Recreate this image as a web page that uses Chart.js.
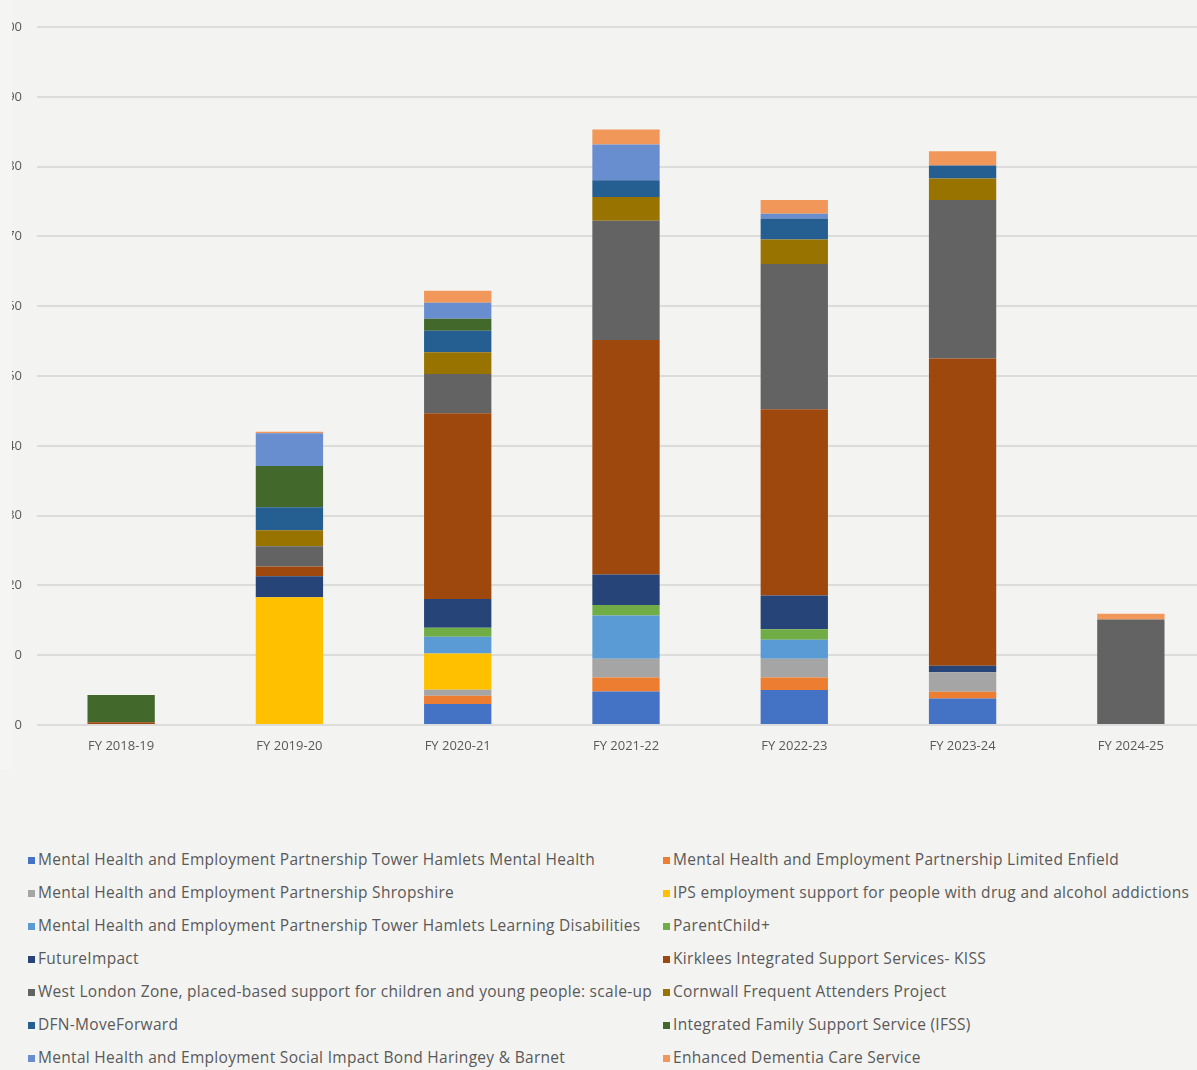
<!DOCTYPE html>
<html>
<head>
<meta charset="utf-8">
<script src="https://cdn.jsdelivr.net/npm/chart.js@4/dist/chart.umd.min.js"></script>
<style>
  html, body { margin: 0; padding: 0; background: #f3f3f1; }
  .wrap { position: relative; width: 1197px; height: 1070px; overflow: hidden; background: #f3f3f1; }
  .js-chart { position: absolute; left: 0; top: 0; }
  .edge { position: absolute; left: 0; top: 0; width: 12px; height: 770px; background: #f5f5f4; }
  .legend { position: absolute; left: 28px; top: 843px; display: grid; grid-template-columns: 635px auto;
    font-family: 'Open Sans', sans-serif; font-size: 15.5px; letter-spacing: 0.3px; color: #595959; }
  .legend div { height: 33px; line-height: 33px; white-space: nowrap; }
  .legend span { display: inline-block; width: 7px; height: 7px; margin-right: 3px; vertical-align: 1px; }
</style>
</head>
<body>
<div class="wrap">
  <canvas class="js-chart" width="1240" height="770"></canvas>
  <div class="edge"></div>
  <div class="legend js-legend"></div>
</div>
<script>
const categories = ['FY 2018-19', 'FY 2019-20', 'FY 2020-21', 'FY 2021-22', 'FY 2022-23', 'FY 2023-24', 'FY 2024-25'];

const seriesNames = [
  'Mental Health and Employment Partnership Tower Hamlets Mental Health',
  'Mental Health and Employment Partnership Limited Enfield',
  'Mental Health and Employment Partnership Shropshire',
  'IPS employment support for people with drug and alcohol addictions',
  'Mental Health and Employment Partnership Tower Hamlets Learning Disabilities',
  'ParentChild+',
  'FutureImpact',
  'Kirklees Integrated Support Services- KISS',
  'West London Zone, placed-based support for children and young people: scale-up',
  'Cornwall Frequent Attenders Project',
  'DFN-MoveForward',
  'Integrated Family Support Service (IFSS)',
  'Mental Health and Employment Social Impact Bond Haringey & Barnet',
  'Enhanced Dementia Care Service'
];

const towerHamletsMH = [0, 0, 3.0, 4.8, 5.0, 3.8, 0];
const enfield = [0, 0, 1.2, 2.0, 1.8, 0.95, 0];
const shropshire = [0, 0, 0.85, 2.7, 2.7, 2.8, 0];
const ipsAddictions = [0, 18.3, 5.2, 0, 0, 0, 0];
const towerHamletsLD = [0, 0, 2.4, 6.2, 2.7, 0, 0];
const parentChild = [0, 0, 1.3, 1.5, 1.5, 0, 0];
const futureImpact = [0, 3.0, 4.1, 4.35, 4.85, 0.95, 0];
const kiss = [0.4, 1.4, 26.6, 33.6, 26.7, 44.0, 0];
const westLondonZone = [0, 2.9, 5.65, 17.1, 20.8, 22.7, 15.1];
const cornwall = [0, 2.3, 3.1, 3.4, 3.5, 3.1, 0];
const dfnMoveForward = [0, 3.3, 3.1, 2.4, 3.0, 1.85, 0];
const ifss = [3.9, 5.9, 1.7, 0, 0, 0, 0];
const haringeyBarnet = [0, 4.7, 2.3, 5.1, 0.7, 0, 0];
const dementiaCare = [0, 0.2, 1.7, 2.15, 1.95, 2.05, 0.85];

const yTicks = [0, 10, 20, 30, 40, 50, 60, 70, 80, 90, 100];

const seriesValues = [towerHamletsMH, enfield, shropshire, ipsAddictions, towerHamletsLD, parentChild,
  futureImpact, kiss, westLondonZone, cornwall, dfnMoveForward, ifss, haringeyBarnet, dementiaCare];

const colors = ['#4472C4', '#ED7D31', '#A5A5A5', '#FFC000', '#5B9BD5', '#70AD47',
  '#264478', '#9E480E', '#636363', '#997300', '#255E91', '#43682B', '#698ED0', '#F1975A'];

const ctx = document.querySelector('.js-chart').getContext('2d');

// legend is built from the chart's own datasets, two columns like the original
const htmlLegend = {
  id: 'htmlLegend',
  afterUpdate(chart) {
    const box = document.querySelector('.js-legend');
    box.innerHTML = '';
    chart.data.datasets.forEach(ds => {
      const item = document.createElement('div');
      const sw = document.createElement('span');
      sw.style.background = ds.backgroundColor;
      item.appendChild(sw);
      item.appendChild(document.createTextNode(ds.label));
      box.appendChild(item);
    });
  }
};

new Chart(ctx, {
  type: 'bar',
  data: {
    labels: categories,
    datasets: seriesNames.map((name, i) => ({
      label: name,
      data: seriesValues[i],
      backgroundColor: colors[i],
      borderWidth: 0,
      categoryPercentage: 1,
      barPercentage: 0.4
    }))
  },
  options: {
    responsive: false,
    animation: false,
    layout: { padding: { left: 0, right: 25, top: 27, bottom: 5 } },
    plugins: { legend: { display: false }, tooltip: { enabled: false } },
    scales: {
      x: {
        stacked: true,
        grid: { display: false, drawTicks: false },
        border: { display: false },
        ticks: { color: '#595959', padding: 13, font: { family: 'Open Sans', size: 13 } },
        afterFit(scale) { scale.height = 40; }
      },
      y: {
        stacked: true,
        min: 0,
        max: 100,
        afterBuildTicks(scale) { scale.ticks = yTicks.map(v => ({ value: v })); },
        grid: { color: '#dcdcda', lineWidth: 2, drawTicks: false },
        border: { display: false },
        ticks: { color: '#595959', padding: 15, font: { family: 'Open Sans', size: 13 } },
        afterFit(scale) { scale.width = 37; }
      }
    }
  },
  plugins: [htmlLegend]
});
</script>
</body>
</html>
